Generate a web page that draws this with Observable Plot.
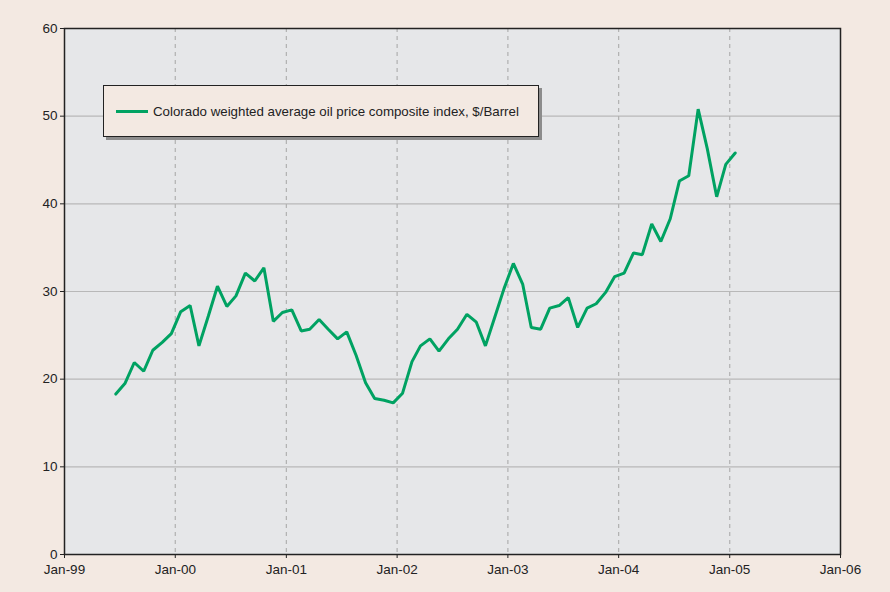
<!DOCTYPE html>
<html>
<head>
<meta charset="utf-8">
<script src="https://cdn.jsdelivr.net/npm/d3@7"></script>
<script src="https://cdn.jsdelivr.net/npm/@observablehq/plot@0.6"></script>
<style>
  body { margin: 0; background: #f3e9e2; }
  #wrap { position: relative; width: 890px; height: 592px; background: #f3e9e2; }
  #legend {
    position: absolute; left: 103px; top: 85px; width: 436px; height: 52px;
    background: #f3e9e2; border: 1px solid #222; box-sizing: border-box;
    box-shadow: 3px 3px 0 #8c8c8c;
    display: flex; align-items: center;
    font: 13.3px "Liberation Sans", Arial, sans-serif; color: #222;
  }
  #legend .sw { width: 32px; height: 3px; background: #00a262; margin-left: 12px; margin-right: 5px; }
</style>
</head>
<body>
<div id="wrap"></div>
<script>
const months = [
  "Jun-99","Jul-99","Aug-99","Sep-99","Oct-99","Nov-99","Dec-99",
  "Jan-00","Feb-00","Mar-00","Apr-00","May-00","Jun-00","Jul-00","Aug-00","Sep-00","Oct-00","Nov-00","Dec-00",
  "Jan-01","Feb-01","Mar-01","Apr-01","May-01","Jun-01","Jul-01","Aug-01","Sep-01","Oct-01","Nov-01","Dec-01",
  "Jan-02","Feb-02","Mar-02","Apr-02","May-02","Jun-02","Jul-02","Aug-02","Sep-02","Oct-02","Nov-02","Dec-02",
  "Jan-03","Feb-03","Mar-03","Apr-03","May-03","Jun-03","Jul-03","Aug-03","Sep-03","Oct-03","Nov-03","Dec-03",
  "Jan-04","Feb-04","Mar-04","Apr-04","May-04","Jun-04","Jul-04","Aug-04","Sep-04","Oct-04","Nov-04","Dec-04",
  "Jan-05"
];
const prices = [
  18.3, 19.5, 21.9, 20.9, 23.3, 24.2, 25.2,
  27.7, 28.4, 23.8, 27.2, 30.6, 28.3, 29.5, 32.1, 31.2, 32.7, 26.6, 27.6,
  27.9, 25.5, 25.7, 26.8, 25.7, 24.6, 25.4, 22.7, 19.6, 17.8, 17.6, 17.3,
  18.4, 22.0, 23.8, 24.6, 23.2, 24.6, 25.7, 27.4, 26.5, 23.8, 27.1, 30.3,
  33.2, 30.8, 25.9, 25.7, 28.1, 28.4, 29.3, 25.9, 28.1, 28.6, 29.9, 31.7,
  32.1, 34.4, 34.2, 37.7, 35.7, 38.3, 42.6, 43.2, 50.8, 46.3, 40.8, 44.5,
  45.8
];
const xTickLabels = ["Jan-99","Jan-00","Jan-01","Jan-02","Jan-03","Jan-04","Jan-05","Jan-06"];
const yTicks = [0, 10, 20, 30, 40, 50, 60];
const seriesName = "Colorado weighted average oil price composite index, $/Barrel";

const parse = d3.utcParse("%b-%y");
// monthly observations are plotted around the middle of each month
const data = months.map((m, i) => ({date: d3.utcDay.offset(parse(m), 18), price: prices[i]}));
const xTicks = xTickLabels.map(parse);

const font = '"Liberation Sans", Arial, sans-serif';
const chart = Plot.plot({
  width: 890,
  height: 592,
  marginLeft: 64,
  marginRight: 50,
  marginTop: 28,
  marginBottom: 38,
  style: {background: "#f3e9e2", fontFamily: font, fontSize: "13.5px", color: "#222"},
  x: {type: "utc", domain: [xTicks[0], xTicks[xTicks.length - 1]]},
  y: {domain: [0, 60]},
  marks: [
    Plot.frame({fill: "#e6e7e9", stroke: null}),
    Plot.gridY(yTicks.slice(1, -1), {stroke: "#b8b8b8", strokeOpacity: 1, strokeWidth: 1.2}),
    Plot.gridX(xTicks.slice(1, -1), {stroke: "#b0b0b0", strokeOpacity: 1, strokeDasharray: "4,4", strokeWidth: 1.2}),
    Plot.line(data, {x: "date", y: "price", stroke: "#00a262", strokeWidth: 3, strokeLinejoin: "miter", curve: "linear"}),
    Plot.frame({stroke: "#222", strokeWidth: 1.5}),
    Plot.axisY(yTicks, {tickSize: 4, tickPadding: 3, fontSize: 13.5, stroke: "#222", fill: "#222", label: null}),
    Plot.axisX(xTicks, {tickSize: 4, tickPadding: 6, tickFormat: d3.utcFormat("%b-%y"), fontSize: 13.5, stroke: "#222", fill: "#222", label: null})
  ]
});
const wrap = document.getElementById("wrap");
wrap.appendChild(chart);
const legend = document.createElement("div");
legend.id = "legend";
legend.innerHTML = '<span class="sw"></span><span></span>';
legend.lastChild.textContent = seriesName;
wrap.appendChild(legend);
</script>
</body>
</html>
